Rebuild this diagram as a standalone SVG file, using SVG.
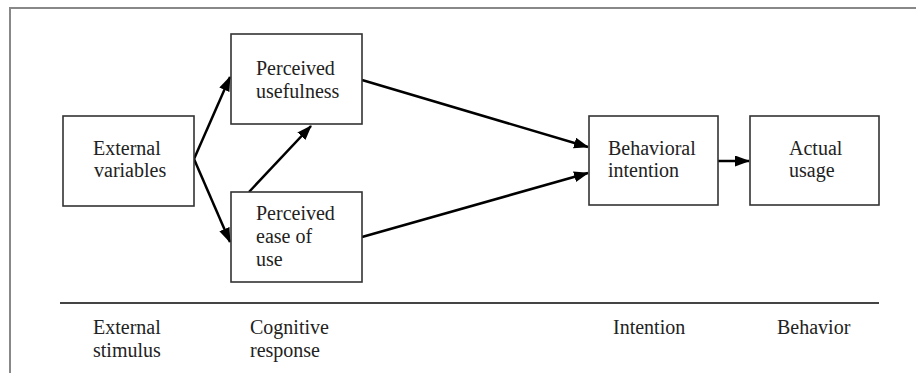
<svg xmlns="http://www.w3.org/2000/svg" width="916" height="373" viewBox="0 0 916 373">
<style>
.box{fill:#fff;stroke:#333;stroke-width:1.6}
.t{font-family:'Liberation Serif','Times New Roman','DejaVu Serif',serif;font-size:20px;fill:#222}
.edge{stroke:#000;stroke-width:2.5;fill:none}
.frame{stroke:#888;stroke-width:2;fill:none}
</style>
<defs>
<marker id="ah" markerUnits="userSpaceOnUse" markerWidth="16" markerHeight="12" refX="14" refY="5.5" orient="auto">
<path d="M0,0 L15,5.5 L0,11 z" fill="#000"/>
</marker>
</defs>
<rect width="916" height="373" fill="#fff"/>
<path class="frame" d="M10,373 L10,8 L916,8"/>

<g id="connectors">
<line class="edge" x1="194" y1="159" x2="230" y2="77" marker-end="url(#ah)"/>
<line class="edge" x1="194" y1="159" x2="230" y2="242" marker-end="url(#ah)"/>
<line class="edge" x1="249" y1="192" x2="311" y2="126" marker-end="url(#ah)"/>
<line class="edge" x1="362" y1="80" x2="588" y2="147" marker-end="url(#ah)"/>
<line class="edge" x1="362" y1="237" x2="588" y2="173" marker-end="url(#ah)"/>
<line class="edge" x1="718" y1="161" x2="749" y2="161" stroke-width="3.5" marker-end="url(#ah)"/>
</g>

<g id="external-variables">
<rect class="box" x="63" y="116" width="131" height="90"/>
<text class="t" font-family="Liberation Serif, serif" x="93" y="155">External</text>
<text class="t" x="94" y="177">variables</text>
</g>
<g id="perceived-usefulness">
<rect class="box" x="231" y="34" width="131" height="90"/>
<text class="t" x="256" y="75">Perceived</text>
<text class="t" x="256" y="98">usefulness</text>
</g>
<g id="perceived-ease">
<rect class="box" x="231" y="192" width="131" height="90"/>
<text class="t" x="256" y="220">Perceived</text>
<text class="t" x="256" y="243">ease of</text>
<text class="t" x="256" y="266">use</text>
</g>
<g id="behavioral-intention">
<rect class="box" x="589" y="116" width="129" height="89"/>
<text class="t" x="608" y="155">Behavioral</text>
<text class="t" x="608" y="177">intention</text>
</g>
<g id="actual-usage">
<rect class="box" x="750" y="116" width="129" height="89"/>
<text class="t" x="789" y="155">Actual</text>
<text class="t" x="789" y="177">usage</text>
</g>

<line x1="60" y1="303" x2="879" y2="303" stroke="#444" stroke-width="2"/>
<g id="stage-labels">
<text class="t" x="93" y="334">External</text>
<text class="t" x="93" y="357">stimulus</text>
<text class="t" x="250" y="334">Cognitive</text>
<text class="t" x="250" y="357">response</text>
<text class="t" x="613" y="334">Intention</text>
<text class="t" x="777" y="334">Behavior</text>
</g>
</svg>
